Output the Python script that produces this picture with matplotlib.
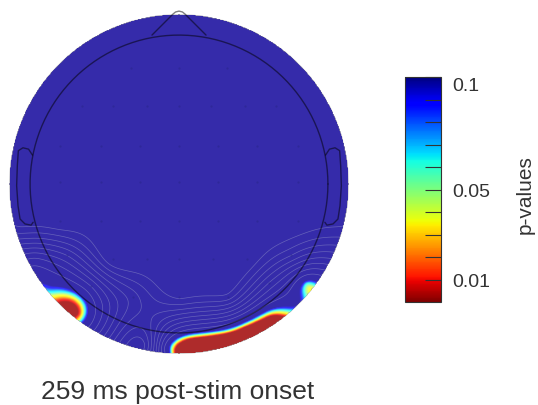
import numpy as np
import matplotlib
matplotlib.use("Agg")
import matplotlib.pyplot as plt
from matplotlib.colors import ListedColormap, Normalize
from matplotlib.patches import Circle
import matplotlib.cm as cm

plt.rcParams['font.family'] = ['Liberation Sans', 'DejaVu Sans']

# ---------------- data ----------------
title_text = "259 ms post-stim onset"
cbar_label = "p-values"
cbar_ticks = [0.01, 0.05, 0.1]
cbar_ticklabels = ["0.01", "0.05", "0.1"]
p_min, p_max = 0.0, 0.1

# interior electrodes (head-normalised coordinates) and their p-values
grid_x = [-0.28, 0.00, 0.28,
          -0.57, -0.39, -0.19, 0.00, 0.19, 0.39, 0.57,
          -0.70, -0.46, -0.23, 0.00, 0.23, 0.46, 0.70,
          -0.70, -0.46, -0.23, 0.00, 0.23, 0.46, 0.70,
          -0.70, -0.46, -0.23, 0.00, 0.23, 0.46, 0.70,
          -0.39, -0.19, 0.00, 0.20, 0.40,
          -0.27, 0.00, 0.29,
          -0.52, 0.53, -0.66, 0.66]
grid_y = [0.68, 0.68, 0.68,
          0.46, 0.46, 0.46, 0.46, 0.46, 0.46, 0.46,
          0.225, 0.225, 0.225, 0.225, 0.225, 0.225, 0.225,
          0.01, 0.01, 0.01, 0.01, 0.01, 0.01, 0.01,
          -0.22, -0.22, -0.22, -0.22, -0.22, -0.22, -0.22,
          -0.44, -0.44, -0.44, -0.44, -0.44,
          -0.665, -0.665, -0.665,
          -0.60, -0.58, -0.42, -0.42]
grid_p = [1.0, 1.0, 1.0,
          1.0, 1.0, 1.0, 1.0, 1.0, 1.0, 1.0,
          1.0, 1.0, 1.0, 1.0, 1.0, 1.0, 1.0,
          1.0, 1.0, 1.0, 1.0, 1.0, 1.0, 1.0,
          1.0, 1.0, 1.0, 1.0, 1.0, 1.0, 1.0,
          1.0, 1.0, 1.0, 1.0, 1.0,
          0.65, 0.92, 0.85,
          0.30, 0.50, 0.50, 0.70]

# rim electrodes: angle (deg, 0 = right, counter-clockwise), radius, p-value
rim_angle = [0, 30, 60, 90, 120, 150, 180,
             -165, -152, -141, -128, -115, -102, -95,
             -87, -76, -65, -55, -45, -38, -30, -15]
rim_radius = [0.97, 0.97, 0.97, 0.97, 0.97, 0.97, 0.97,
              0.97, 0.97, 0.97, 0.97, 0.97, 0.97, 0.96,
              0.92, 0.92, 0.93, 0.95, 0.98, 0.955, 0.97, 0.97]
rim_p = [1.0, 1.0, 1.0, 1.0, 1.0, 1.0, 1.0,
         0.90, 0.25, 0.09, 0.0, 0.55, 0.90, 0.20,
         0.0, 0.0, 0.0, 0.0, 0.12, 0.065, 0.35, 0.90]

# ---------------- geometry ----------------
head_r = 0.876
ra = np.radians(rim_angle)
ex = np.concatenate([np.array(grid_x), np.array(rim_radius) * np.cos(ra)])
ey = np.concatenate([np.array(grid_y), np.array(rim_radius) * np.sin(ra)])
ev = np.concatenate([np.array(grid_p), np.array(rim_p)])


def v4_interp(xe, ye, ve, xq, yq):
    """biharmonic spline interpolation (MATLAB griddata 'v4')"""
    d = np.hypot(xe[:, None] - xe[None, :], ye[:, None] - ye[None, :])
    with np.errstate(divide='ignore', invalid='ignore'):
        G = np.where(d > 0, d ** 2 * (np.log(d) - 1), 0.0)
    w = np.linalg.solve(G, ve)
    dq = np.hypot(xq.ravel()[:, None] - xe[None, :], yq.ravel()[:, None] - ye[None, :])
    with np.errstate(divide='ignore', invalid='ignore'):
        Gq = np.where(dq > 0, dq ** 2 * (np.log(dq) - 1), 0.0)
    return (Gq @ w).reshape(xq.shape)


n = 401
gx = np.linspace(-1, 1, n)
X, Y = np.meshgrid(gx, gx)
P = v4_interp(ex, ey, ev, X, Y)
mask = np.hypot(X, Y) > 1.0
Pm = np.ma.array(P, mask=mask)

# colormaps
jet_r = plt.get_cmap('jet_r', 256)
base = jet_r(np.linspace(0, 1, 256))
topo_cols = base.copy()
topo_cols[:, 0] = np.clip(base[:, 0] * 0.95 + 0.21, 0, 1)
topo_cols[:, 1] = np.clip(base[:, 1] * 0.95 + 0.17, 0, 1)
topo_cols[:, 2] = np.clip(base[:, 2] * 1.00 + 0.17, 0, 1)
topo_cmap = ListedColormap(topo_cols)
norm = Normalize(vmin=p_min, vmax=p_max)

# ---------------- figure ----------------
fig = plt.figure(figsize=(5.38, 4.06), dpi=100)
ax = fig.add_axes([4 / 538, 46 / 406, 350 / 538, 350 / 406])
lim = 175 / 170
ax.set_xlim(-lim, lim)
ax.set_ylim(-lim, lim)
ax.set_aspect('equal')
ax.axis('off')

clip = Circle((0, 0), 1.0, transform=ax.transData)
im = ax.imshow(np.clip(Pm, p_min, p_max), origin='lower', extent=(-1, 1, -1, 1),
               cmap=topo_cmap, norm=norm, interpolation='bilinear', zorder=1)
im.set_clip_path(clip)

cs = ax.contour(X, Y, Pm, levels=np.arange(0.2, 0.95, 0.1), colors='#6662ba',
                linewidths=0.5, zorder=2)
cs.set_clip_path(clip)

# electrode dots
inside = np.hypot(ex, ey) < 0.9
ax.plot(ex[inside], ey[inside], 'o', ms=1.6,
        color='#28268a', alpha=0.5, mec='none', zorder=3)

line_kw = dict(color='black', alpha=0.5, lw=1.0, solid_joinstyle='round',
               solid_capstyle='round', zorder=4)
t = np.linspace(0, 2 * np.pi, 400)
ax.plot(head_r * np.cos(t), head_r * np.sin(t), **line_kw)
nose_x = np.array([-0.159, -0.035, -0.02, 0.0, 0.02, 0.035, 0.159])
nose_y = np.array([0.876, 1.000, 1.012, 1.017, 1.012, 1.000, 0.876])
ax.plot(nose_x, nose_y, **line_kw)
ear_x = np.array([-0.862, -0.885, -0.918, -0.945, -0.951, -0.955, -0.947,
                  -0.935, -0.906, -0.870, -0.858])
ear_y = np.array([0.17, 0.205, 0.213, 0.196, 0.108, -0.01, -0.128,
                  -0.206, -0.235, -0.242, -0.225])
ax.plot(ear_x, ear_y, **line_kw)
ax.plot(-ear_x, ear_y, **line_kw)

# colorbar
cax = fig.add_axes([405 / 538, (406 - 303) / 406, 36 / 538, 225 / 406])
sm = cm.ScalarMappable(norm=norm, cmap=jet_r)
cb = fig.colorbar(sm, cax=cax, orientation='vertical')
cb.outline.set_linewidth(0.8)
cb.outline.set_edgecolor('#333333')
cb.set_ticks(cbar_ticks)
cb.set_ticklabels(cbar_ticklabels)
cax.yaxis.set_minor_locator(matplotlib.ticker.FixedLocator(np.arange(0.01, 0.1, 0.01)))
cax.tick_params(which='both', direction='in', length=11.5, width=0.8,
                color='#333333', right=True, left=False, labelsize=14,
                labelcolor='#333333', pad=8)
for lab in cax.get_yticklabels():
    if lab.get_text() == "0.1":
        lab.set_va('top')

fig.text(525 / 538, 1 - 195 / 406, cbar_label, rotation=90, ha='center',
         va='center', fontsize=15, color='#333333')
fig.text(178 / 538, 1 - 392 / 406, title_text, ha='center', va='center',
         fontsize=19, color='#333333')

fig.savefig('out.png', dpi=100)
